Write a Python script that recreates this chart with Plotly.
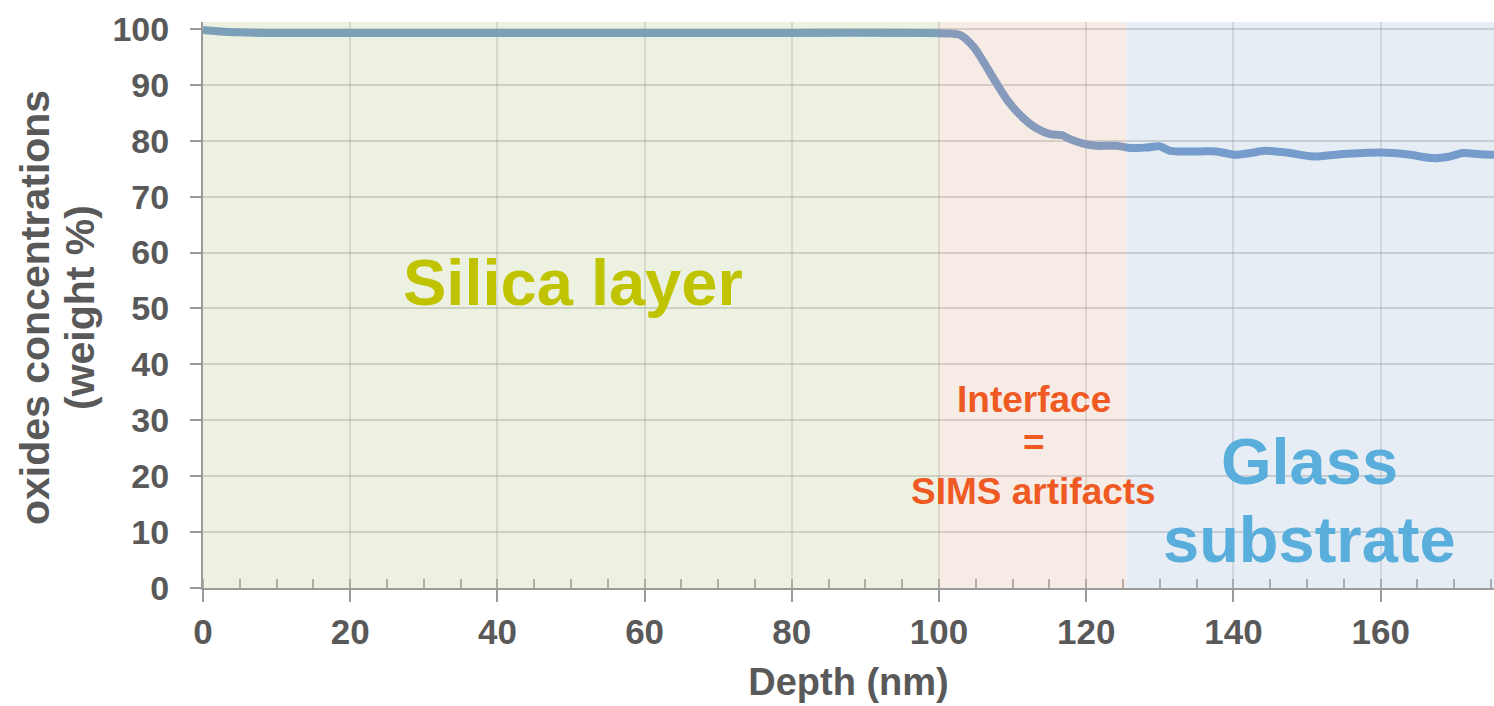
import plotly.graph_objects as go

# Data
depth_nm = [0, 2, 5, 10, 20, 40, 60, 80, 98, 101, 102.9, 104.7, 106.0, 107.8, 109.6,
            111.5, 113.3, 115.1, 116.7, 117.8, 119.6, 121.4, 124.1, 126.0, 128.2,
            130.0, 131.4, 135.5, 137.7, 140.2, 142.3, 144.3, 147.2, 150.9, 154.5,
            160.1, 163.5, 167.2, 169.4, 171.2, 173.5, 175.4]
oxides_wt = [99.8, 99.6, 99.4, 99.3, 99.3, 99.3, 99.3, 99.3, 99.3, 99.2, 98.9, 96.8,
             94.2, 90.3, 86.7, 84.0, 82.2, 81.2, 81.0, 80.3, 79.5, 79.1, 79.1, 78.7,
             78.8, 79.0, 78.2, 78.1, 78.1, 77.5, 77.8, 78.2, 77.9, 77.2, 77.6, 77.9,
             77.6, 76.9, 77.2, 77.8, 77.6, 77.5]

region_names = ["Silica layer", "Interface", "Glass substrate"]
region_starts = [0, 100, 125.4]
region_ends = [100, 125.4, 175.4]
region_fills = ["rgba(206,215,175,0.36)", "rgba(232,200,186,0.36)", "rgba(186,204,228,0.36)"]

x_range = [0, 175.4]
y_range = [0, 101.25]
x_ticks = [0, 20, 40, 60, 80, 100, 120, 140, 160]
y_ticks = [0, 10, 20, 30, 40, 50, 60, 70, 80, 90, 100]

GRAY = "#595959"
AX = "#9a9a9a"
FONT = "Liberation Sans, Arial, sans-serif"

fig = go.Figure()
fig.add_trace(go.Scatter(
    x=depth_nm, y=oxides_wt, mode="lines",
    line=dict(color="#4F81BD", width=8, shape="spline", smoothing=0.8),
    showlegend=False, hoverinfo="skip",
))

for x0, x1, col in zip(region_starts, region_ends, region_fills):
    fig.add_shape(type="rect", xref="x", yref="paper", x0=x0, x1=x1, y0=0, y1=1,
                  fillcolor=col, line=dict(width=0), layer="above")

def txt(text, x, y, size, color):
    fig.add_annotation(text=f"<b>{text}</b>", x=x, y=y, xref="x", yref="y",
                       showarrow=False, font=dict(family=FONT, size=size, color=color),
                       xanchor="center", yanchor="middle")

txt("Silica layer", 50.3, 54.7, 65, "#BFC300")
txt("Interface", 112.9, 33.8, 37, "#EF5A23")
txt("=", 112.9, 26.0, 37, "#EF5A23")
txt("SIMS artifacts", 112.9, 17.3, 37, "#EF5A23")
txt("Glass", 150.4, 22.7, 65, "#5AAEDB")
txt("substrate", 150.4, 8.6, 65, "#5AAEDB")

# y-axis title as two lines
for line, xpx in [("oxides concentrations", 35), ("(weight %)", 80)]:
    fig.add_annotation(text=f"<b>{line}</b>", x=0, xref="paper", xshift=xpx - 203,
                       y=0.5, yref="paper", yshift=-3, showarrow=False, textangle=-90,
                       font=dict(family=FONT, size=41, color=GRAY),
                       xanchor="center", yanchor="middle")

fig.update_xaxes(
    range=x_range, tickvals=x_ticks, ticks="outside", ticklen=12, tickwidth=2,
    tickcolor=AX, showline=True, linecolor=AX, linewidth=2,
    showgrid=True, gridcolor="rgba(150,150,150,0.35)", gridwidth=2,
    tickfont=dict(family=FONT, size=35, color=GRAY, weight="bold"),
    ticklabelstandoff=0,
    minor=dict(dtick=5, ticks="inside", ticklen=9, tickwidth=2, tickcolor=AX, showgrid=False),
    title=dict(text="<b>Depth (nm)</b>", font=dict(family=FONT, size=38, color=GRAY), standoff=18),
    zeroline=False, fixedrange=True,
)
fig.update_yaxes(
    range=y_range, tickvals=y_ticks, ticks="outside", ticklen=11, tickwidth=2,
    tickcolor=AX, showline=True, linecolor=AX, linewidth=2,
    showgrid=True, gridcolor="rgba(130,130,130,0.4)", gridwidth=2,
    tickfont=dict(family=FONT, size=34, color=GRAY, weight="bold"),
    ticklabelstandoff=14, zeroline=False, fixedrange=True,
)

fig.update_layout(
    width=1494, height=706,
    margin=dict(l=203, r=0, t=22, b=118),
    paper_bgcolor="white", plot_bgcolor="white",
    showlegend=False,
)

fig.write_html("out.html")
